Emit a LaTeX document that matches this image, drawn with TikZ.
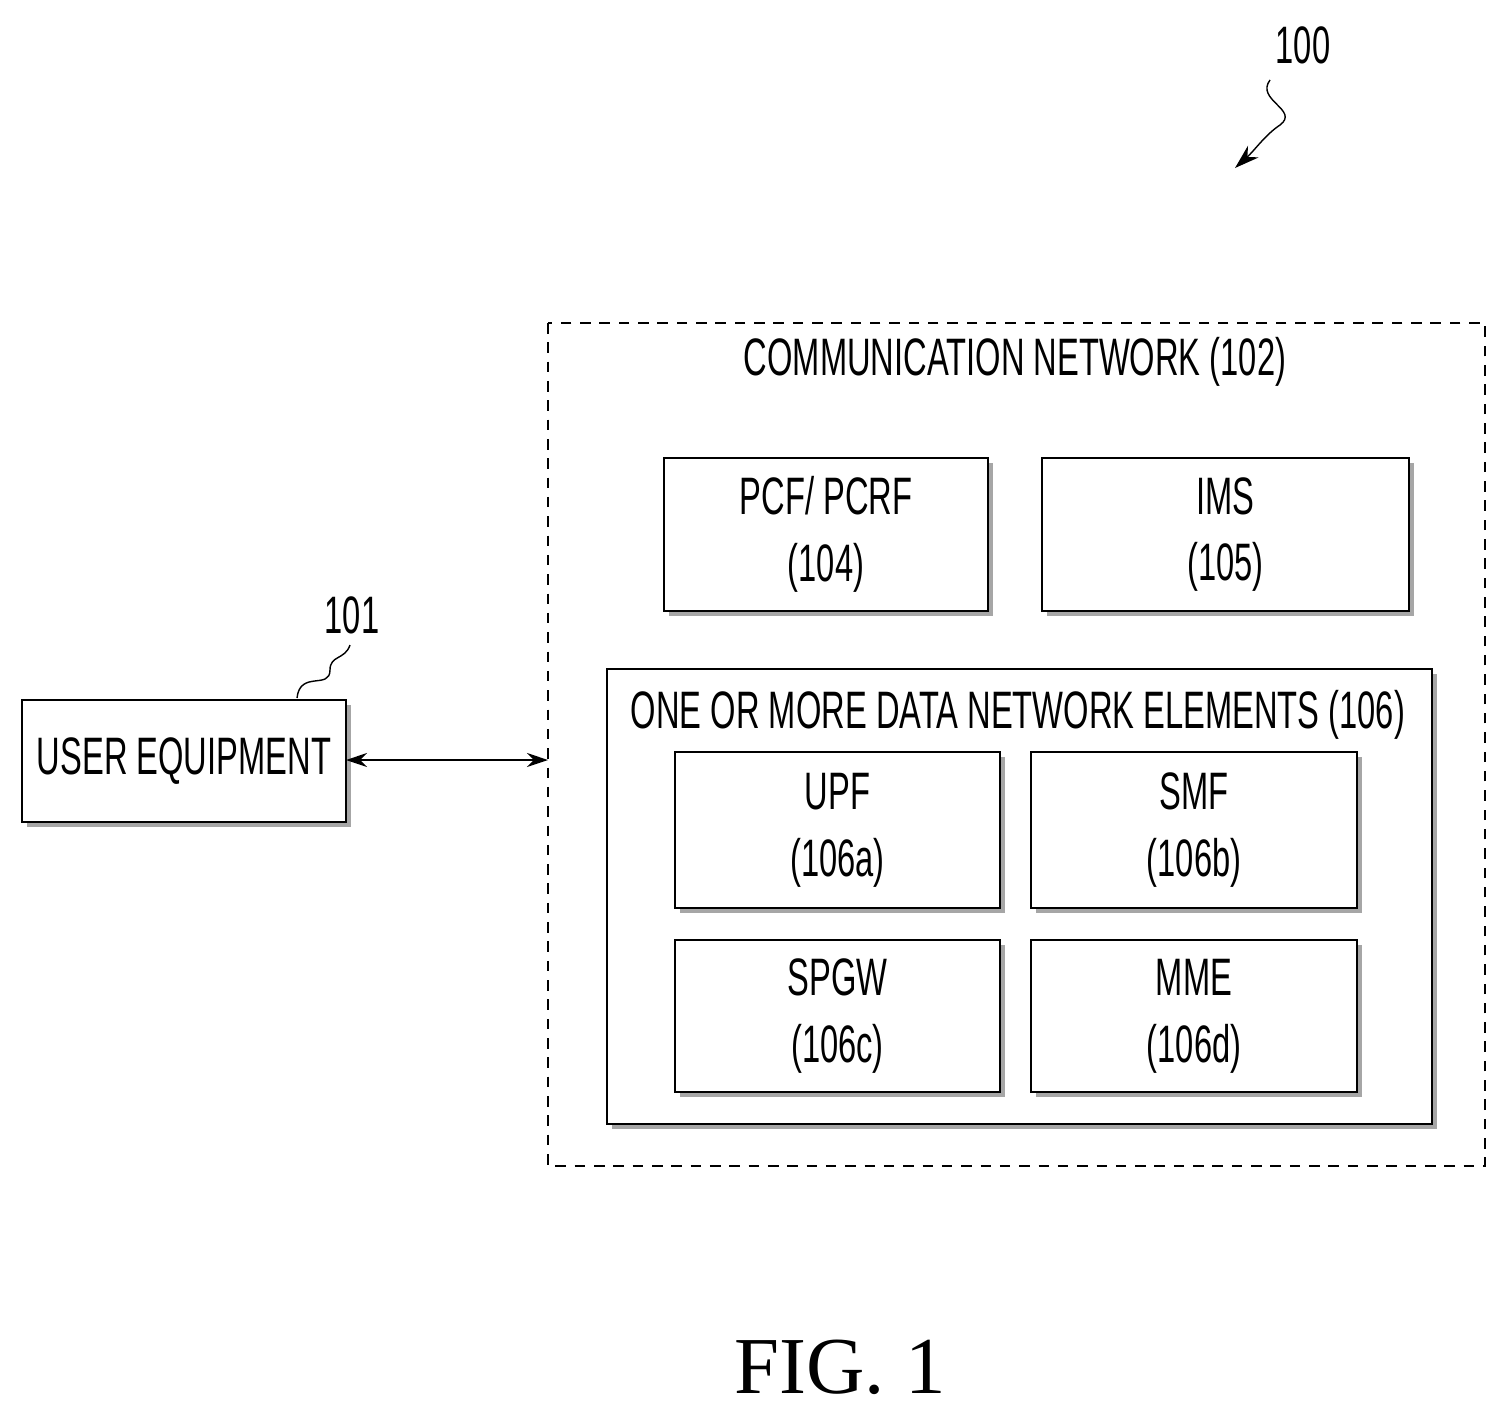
\documentclass[tikz,border=0pt]{standalone}
\usepackage{fontspec}
\setmainfont{Liberation Sans}[FakeStretch=0.62]
\newfontfamily\serifff{Liberation Serif}
\usetikzlibrary{arrows.meta,decorations.pathmorphing}
\begin{document}
\begin{tikzpicture}[x=0.02cm,y=-0.02cm,
  box/.style={draw,line width=1.2pt,fill=white},
  shad/.style={fill=gray!70},
  lbl/.style={font=\fontsize{30}{38}\selectfont,align=center}]
\useasboundingbox (0,0) rectangle (1508,1417);
\newcommand\shbox[5]{% name x1 y1 x2 y2
  \fill[shad] (#2+5,#3+5) rectangle (#4+5,#5+5);
  \draw[box] (#2,#3) rectangle (#4,#5);
  \coordinate (#1) at ({(#2+#4)/2},{(#3+#5)/2});}
% dashed outer
\draw[dashed,line width=1pt,dash pattern=on 6pt off 5pt] (548,323) rectangle (1485,1166);
\coordinate (cn) at (548,760);
\node[lbl] (cntitle) at (1015,362) {COMMUNICATION NETWORK (102)};
\shbox{pcf}{664}{458}{988}{611}
\node[lbl] (pcft) at (pcf) {PCF/ PCRF\\(104)};
\shbox{ims}{1042}{458}{1409}{611}
\node[lbl] (imst) at (ims) {IMS\\(105)};
\shbox{dn}{607}{669}{1432}{1124}
\node[lbl] (dnt) at (1018,715) {ONE OR MORE DATA NETWORK ELEMENTS (106)};
\shbox{upf}{675}{752}{1000}{908}
\node[lbl] (upft) at (upf) {UPF\\(106a)};
\shbox{smf}{1031}{752}{1357}{908}
\node[lbl] (smft) at (smf) {SMF\\(106b)};
\shbox{spgw}{675}{940}{1000}{1092}
\node[lbl] (spgwt) at (spgw) {SPGW\\(106c)};
\shbox{mme}{1031}{940}{1357}{1092}
\node[lbl] (mmet) at (mme) {MME\\(106d)};
\shbox{ue}{22}{700}{346}{822}
\node[lbl] (uet) at (ue) {USER EQUIPMENT};
\coordinate (uer) at (346,760);
\draw[{Stealth[length=12pt,width=8pt]}-{Stealth[length=12pt,width=8pt]},line width=1pt] (uer) -- (cn);
% 101
\node[lbl] (l101) at (352,615) {101};
\coordinate (a1) at (297,698);
\coordinate (a2) at (350,645);
\draw[line width=0.8pt] (a1) .. controls (300,670) and (330,690) .. (330,670) .. controls (330,655) and (345,660) .. (a2);
% 100
\node[lbl] (l100) at (1303,45) {100};
\coordinate (b1) at (1270,80);
\coordinate (b2) at (1235,168);
\draw[line width=0.8pt,-{Stealth[length=14pt,width=9pt]}] (b1) .. controls (1255,100) and (1300,110) .. (1280,125) .. controls (1265,135) and (1255,150) .. (b2);
\node[font=\serifff\fontsize{46}{54}\selectfont] (fig) at (840,1367) {FIG.\ 1};
\end{tikzpicture}
\end{document}
